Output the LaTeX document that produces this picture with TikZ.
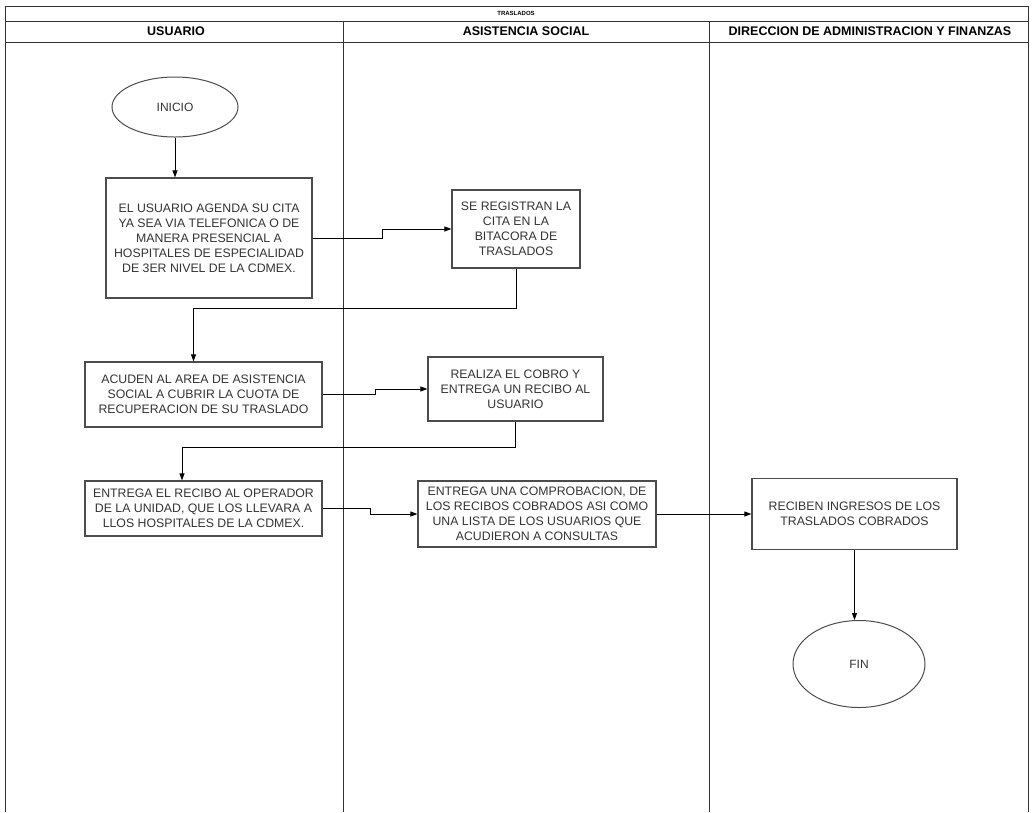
\documentclass[tikz,border=0pt]{standalone}
\usepackage{fontspec}
\setmainfont{Liberation Sans}
\usetikzlibrary{
	shapes.geometric,
	arrows.meta
}

\begin{document}
\begin{tikzpicture}[x=1pt, y=-1pt,
				box/.style={
					rectangle, draw=black!70, line width=1.2pt,
					inner sep=0pt, align=center, text=black!80,
					font=\fontsize{12.3}{15}\selectfont
				},
				endbox/.style={
					ellipse, draw=black!70, line width=1pt,
					inner sep=0pt, text=black!80,
					font=\fontsize{12}{15}\selectfont
				},
				arrow/.style={-{Triangle[length=7pt,width=5pt]}, line width=0.9pt},
				lane/.style={draw=black!80, line width=0.9pt},
				head/.style={font=\bfseries\fontsize{12.5}{14}\selectfont},
				]
				
				\useasboundingbox (0,0) rectangle (1032,812);
				
				%frame and lanes
				\draw[lane] (5,812) -- (5,6) -- (1028,6) -- (1028,812);
				\draw[lane] (5,21) -- (1028,21);
				\draw[lane] (5,42) -- (1028,42);
				\draw[lane] (343,21) -- (343,812);
				\draw[lane] (709,21) -- (709,812);
				
				\node[font=\bfseries\fontsize{6}{7}\selectfont] (title) at (516,13.5) {TRASLADOS};
				\node[head] (usuario) at (176,31.5) {USUARIO};
				\node[head] (asistencia) at (526,31.5) {ASISTENCIA SOCIAL};
				\node[head] (direccion) at (870,31.5) {DIRECCION DE ADMINISTRACION Y FINANZAS};
				
				%first set
				\node[endbox, minimum width=126pt, minimum height=60pt] (inicio) at (175,107) {INICIO};
				
				\node[box, minimum width=206pt, minimum height=120pt] (agenda) at (209,238)
					{EL USUARIO AGENDA SU CITA\\YA SEA VIA TELEFONICA O DE\\MANERA PRESENCIAL A\\HOSPITALES DE ESPECIALIDAD\\DE 3ER NIVEL DE LA CDMEX.};
				\draw[arrow] (inicio.south) -- (inicio.south |- agenda.north);
				
				\node[box, minimum width=128pt, minimum height=78pt] (registro) at (516,229)
					{SE REGISTRAN LA\\CITA EN LA\\BITACORA DE\\TRASLADOS};
				\draw[arrow] (agenda.east) -- ++(70,0) |- (registro.west);
				
				%2. set
				\node[box, minimum width=237pt, minimum height=65pt] (acuden) at (203.5,394.5)
					{ACUDEN AL AREA DE ASISTENCIA\\SOCIAL A CUBRIR LA CUOTA DE\\RECUPERACION DE SU TRASLADO};
				\draw[arrow] (registro.south) -- ++(0,40) -| ([xshift=-10pt]acuden.north);
				
				\node[box, minimum width=175pt, minimum height=64pt] (cobro) at (515.5,389)
					{REALIZA EL COBRO Y\\ENTREGA UN RECIBO AL\\USUARIO};
				\draw[arrow] (acuden.east) -- ++(53,0) |- (cobro.west);
				
				%3. set
				\node[box, minimum width=237pt, minimum height=55pt] (recibo) at (203.5,508.5)
					{ENTREGA EL RECIBO AL OPERADOR\\DE LA UNIDAD, QUE LOS LLEVARA A\\LLOS HOSPITALES DE LA CDMEX.};
				\draw[arrow] (cobro.south) -- ++(0,26) -| ([xshift=-21.5pt]recibo.north);
				
				\node[box, minimum width=238pt, minimum height=66pt] (comprobacion) at (537,514)
					{ENTREGA UNA COMPROBACION, DE\\LOS RECIBOS COBRADOS ASI COMO\\UNA LISTA DE LOS USUARIOS QUE\\ACUDIERON A CONSULTAS};
				\draw[arrow] (recibo.east) -- ++(48,0) |- (comprobacion.west);
				
				%4. set
				\node[box, minimum width=205pt, minimum height=71pt] (ingresos) at (854.5,514)
					{RECIBEN INGRESOS DE LOS\\TRASLADOS COBRADOS};
				\draw[arrow] (comprobacion.east) -- (ingresos.west);
				
				\node[endbox, minimum width=132pt, minimum height=87pt] (fin) at (859,664) {FIN};
				\draw[arrow] (ingresos.south) -- (ingresos.south |- fin.north);
\end{tikzpicture}
\end{document}
